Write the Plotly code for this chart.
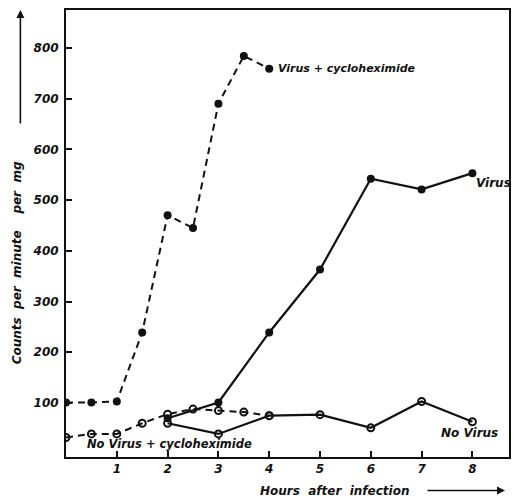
import plotly.graph_objects as go

# ---- data ----
hours_vc = [0, 0.5, 1, 1.5, 2, 2.5, 3, 3.5, 4]
virus_cyclo = [101, 101, 103, 239, 470, 445, 690, 784, 759]

hours_v = [2, 3, 4, 5, 6, 7, 8]
virus = [70, 101, 239, 363, 542, 521, 553]

hours_nv = [2, 3, 4, 5, 6, 7, 8]
no_virus = [60, 39, 75, 77, 51, 103, 63]

hours_nvc = [0, 0.5, 1, 1.5, 2, 2.5, 3, 3.5, 4]
no_virus_cyclo = [32, 39, 39, 60, 78, 88, 85, 82, 75]

x_ticks = [1, 2, 3, 4, 5, 6, 7, 8]
y_ticks = [100, 200, 300, 400, 500, 600, 700, 800]

FONT = "DejaVu Sans"
BLACK = "#111111"

fig = go.Figure()

dash = "7px,5px"

fig.add_trace(go.Scatter(
    x=hours_vc, y=virus_cyclo, mode="lines+markers",
    line=dict(color=BLACK, width=2, dash=dash),
    marker=dict(symbol="circle", size=8, color=BLACK),
    name="Virus + cycloheximide", showlegend=False))

fig.add_trace(go.Scatter(
    x=hours_nvc, y=no_virus_cyclo, mode="lines+markers",
    line=dict(color=BLACK, width=2, dash=dash),
    marker=dict(symbol="circle-open", size=7, color=BLACK, line=dict(width=2)),
    name="No Virus + cycloheximide", showlegend=False))

fig.add_trace(go.Scatter(
    x=hours_nv, y=no_virus, mode="lines+markers",
    line=dict(color=BLACK, width=2.2),
    marker=dict(symbol="circle-open", size=7, color=BLACK, line=dict(width=2)),
    name="No Virus", showlegend=False))

fig.add_trace(go.Scatter(
    x=hours_v, y=virus, mode="lines+markers",
    line=dict(color=BLACK, width=2.2),
    marker=dict(symbol="circle", size=8, color=BLACK),
    name="Virus", showlegend=False))


def lf(size=12):
    return dict(family=FONT, size=size, color=BLACK, style="italic", weight="bold")


annotations = [
    dict(x=hours_vc[-1], y=virus_cyclo[-1], xref="x", yref="y",
         text="Virus + cycloheximide", showarrow=False, xanchor="left",
         yanchor="middle", xshift=7, font=lf(11)),
    dict(x=hours_v[-1], y=virus[-1], xref="x", yref="y",
         text="Virus", showarrow=False, xanchor="left",
         yanchor="middle", xshift=2, yshift=-10, font=lf(12)),
    dict(x=hours_nv[-1], y=no_virus[-1], xref="x", yref="y",
         text="No Virus", showarrow=False, xanchor="center",
         yanchor="middle", xshift=-3, yshift=-11, font=lf(12)),
    dict(x=0.234, y=0.029, xref="paper", yref="paper",
         text="No Virus + cycloheximide", showarrow=False, xanchor="center",
         yanchor="middle", font=lf(11.5)),
    # axis titles
    dict(x=-0.110, y=0.434, xref="paper", yref="paper",
         text="Counts  per  minute    per  mg", textangle=-90, showarrow=False,
         xanchor="center", yanchor="middle", font=lf(12)),
    dict(x=0.607, y=-0.075, xref="paper", yref="paper",
         text="Hours  after  infection", showarrow=False,
         xanchor="center", yanchor="middle", font=lf(12)),
    # arrows
    dict(x=-0.103, y=1.0, ax=0, ay=115, xref="paper", yref="paper",
         axref="pixel", ayref="pixel", text="", showarrow=True,
         arrowhead=2, arrowsize=1, arrowwidth=1.6, arrowcolor=BLACK),
    dict(x=0.991, y=-0.075, ax=-79, ay=0, xref="paper", yref="paper",
         axref="pixel", ayref="pixel", text="", showarrow=True,
         arrowhead=2, arrowsize=1, arrowwidth=1.6, arrowcolor=BLACK),
]

fig.update_layout(
    width=519, height=500,
    margin=dict(l=66, r=8, t=8, b=43),
    paper_bgcolor="white", plot_bgcolor="white",
    annotations=annotations,
)

fig.update_xaxes(
    range=[0, 8.72], tickvals=x_ticks, ticktext=[str(v) for v in x_ticks],
    ticks="inside", ticklen=6, tickwidth=1.6, tickcolor=BLACK,
    showline=True, linecolor=BLACK, linewidth=2, mirror=True,
    showgrid=False, zeroline=False,
    tickfont=lf(12),
)
fig.update_yaxes(
    range=[-6.5, 874.6], tickvals=y_ticks, ticktext=[str(v) for v in y_ticks],
    ticks="inside", ticklen=6, tickwidth=1.6, tickcolor=BLACK,
    showline=True, linecolor=BLACK, linewidth=2, mirror=True,
    showgrid=False, zeroline=False, ticklabelstandoff=3,
    tickfont=lf(12),
)

fig.write_html("out.html")
